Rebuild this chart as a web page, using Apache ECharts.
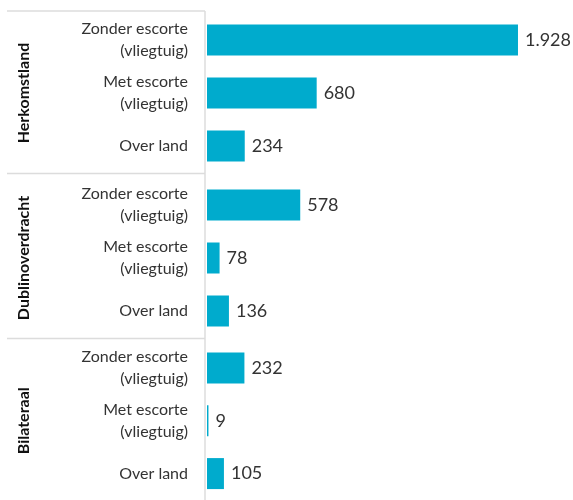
<!DOCTYPE html>
<html>
<head>
<meta charset="utf-8">
<script src="https://cdn.jsdelivr.net/npm/echarts@6/dist/echarts.min.js"></script>
<style>
  html, body { margin: 0; padding: 0; background: #fff; }
  #chart { width: 573px; height: 500px; }
</style>
</head>
<body>
<div id="chart"></div>
<script>
// groepen (soort overdracht) en categorieën per groep
const groups = ["Herkomstland", "Dublinoverdracht", "Bilateraal"];
const categories = ["Zonder escorte\n(vliegtuig)", "Met escorte\n(vliegtuig)", "Over land"];
// aantallen per groep, in volgorde van categories
const herkomstland = [1928, 680, 234];
const dublinoverdracht = [578, 78, 136];
const bilateraal = [232, 9, 105];
const groupValues = [herkomstland, dublinoverdracht, bilateraal];

const font = "Lato";
const barColor = "#00abcd";
const gridTops = [13.5, 178.5, 341.5];

function fmt(v) {
  // Nederlandse notatie: punt als duizendtalscheiding
  return String(v).replace(/\B(?=(\d{3})+(?!\d))/g, ".");
}

let myChart = echarts.init(document.getElementById("chart"));

let grids = [], xAxes = [], yAxes = [], series = [];
groups.forEach((g, i) => {
  grids.push({ left: 207, right: 43.4, top: gridTops[i], height: 159 });
  xAxes.push({
    gridIndex: i, type: "value", min: 0, max: 2000, show: false
  });
  yAxes.push({
    gridIndex: i,
    type: "category",
    inverse: true,
    data: categories,
    name: g,
    nameLocation: "middle",
    nameRotate: 90,
    nameGap: 175,
    nameTextStyle: {
      fontFamily: font, fontWeight: "bold", fontSize: 16, color: "#111"
    },
    axisLine: { show: false },
    axisTick: { show: false },
    axisLabel: {
      margin: 19,
      fontFamily: font,
      fontSize: 16,
      lineHeight: 22,
      color: "#333",
      align: "right"
    }
  });
  series.push({
    type: "bar",
    xAxisIndex: i,
    yAxisIndex: i,
    data: groupValues[i],
    barWidth: 31,
    itemStyle: { color: barColor },
    label: {
      show: true,
      position: "right",
      distance: 7,
      fontFamily: font,
      fontSize: 18,
      color: "#333",
      formatter: (p) => fmt(p.value)
    },
    animation: false
  });
});

// scheidingslijnen tussen groepen en verticale lijn
const lineStyle = { stroke: "#dcdcdc", lineWidth: 1.5 };
let graphic = [
  { type: "line", shape: { x1: 205, y1: 11, x2: 205, y2: 500 }, style: lineStyle },
  { type: "line", shape: { x1: 7, y1: 11, x2: 205, y2: 11 }, style: lineStyle },
  { type: "line", shape: { x1: 7, y1: 173.5, x2: 205, y2: 173.5 }, style: lineStyle },
  { type: "line", shape: { x1: 7, y1: 338.5, x2: 205, y2: 338.5 }, style: lineStyle }
];

let options = {
  animation: false,
  grid: grids,
  xAxis: xAxes,
  yAxis: yAxes,
  series: series,
  graphic: graphic
};
myChart.setOption(options);
</script>
</body>
</html>
